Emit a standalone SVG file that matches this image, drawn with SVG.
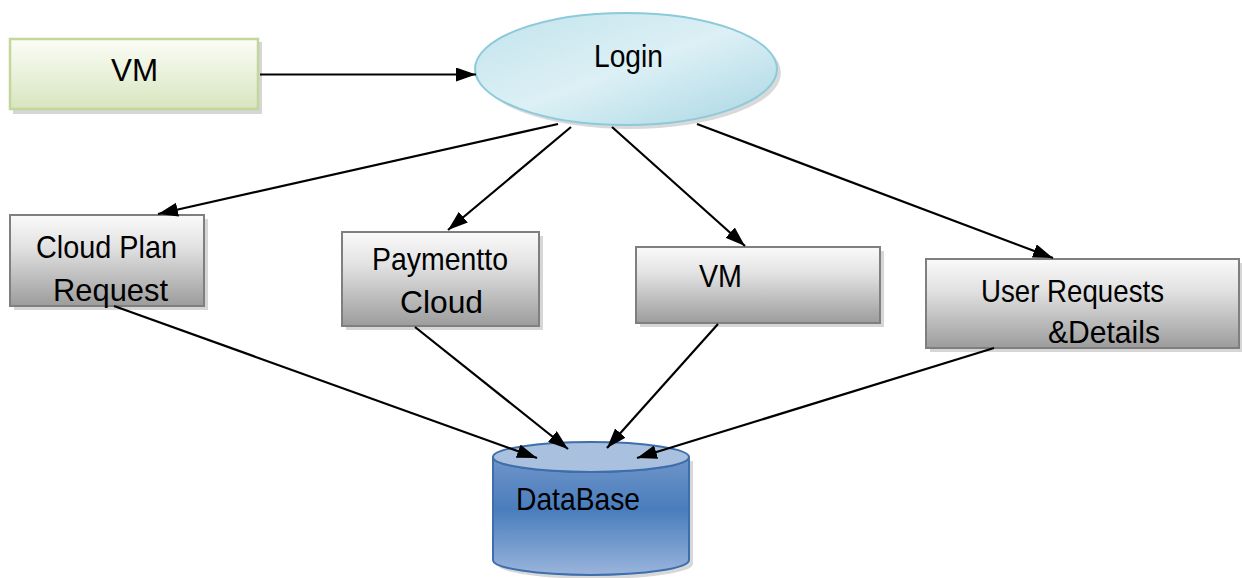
<svg xmlns="http://www.w3.org/2000/svg" width="1242" height="578" viewBox="0 0 1242 578">
  <defs>
    <linearGradient id="gGreen" x1="0" y1="0" x2="0" y2="1">
      <stop offset="0" stop-color="#fbfdf6"/>
      <stop offset="1" stop-color="#d8e5bf"/>
    </linearGradient>
    <linearGradient id="gGray" x1="0" y1="0" x2="0" y2="1">
      <stop offset="0" stop-color="#fafafa"/>
      <stop offset="0.35" stop-color="#e2e2e2"/>
      <stop offset="1" stop-color="#9c9c9c"/>
    </linearGradient>
    <linearGradient id="gLogin" x1="0" y1="0" x2="1" y2="1">
      <stop offset="0" stop-color="#c2e3ec"/>
      <stop offset="0.5" stop-color="#dcf0f5"/>
      <stop offset="1" stop-color="#a9d6e3"/>
    </linearGradient>
    <linearGradient id="gDb" x1="0" y1="0" x2="0" y2="1">
      <stop offset="0" stop-color="#6f95c8"/>
      <stop offset="0.45" stop-color="#4a7dbd"/>
      <stop offset="1" stop-color="#9ab5dc"/>
    </linearGradient>
    <marker id="head" viewBox="0 0 20 14" refX="20" refY="7" markerWidth="20" markerHeight="14" markerUnits="userSpaceOnUse" orient="auto">
      <path d="M0,0 L20,7 L0,14 z" fill="#000"/>
    </marker>
  </defs>
  <style>
    .shadow { fill: #d6d6d6; }
    .box { fill: url(#gGray); stroke: #7f7f7f; stroke-width: 2; }
    .lbl { font-family: "Liberation Sans", Arial, sans-serif; font-size: 32px; fill: #000; }
    .edge { stroke: #000; stroke-width: 2.2; fill: none; marker-end: url(#head); }
  </style>

  <!-- VM (source) -->
  <g id="vm-source">
    <rect class="shadow" x="13" y="42" width="249" height="72"/>
    <rect x="10" y="39" width="248" height="70" fill="url(#gGreen)" stroke="#c3d69b" stroke-width="2.5"/>
    <text class="lbl" x="111" y="81" textLength="47" lengthAdjust="spacingAndGlyphs">VM</text>
  </g>

  <!-- Login -->
  <g id="login">
    <ellipse cx="630" cy="73" rx="151" ry="56" fill="#cfcfcf" opacity="0.8"/>
    <ellipse cx="626" cy="69" rx="151" ry="56" fill="url(#gLogin)" stroke="#8ccadb" stroke-width="2"/>
    <text class="lbl" x="594" y="67" textLength="69" lengthAdjust="spacingAndGlyphs">Login</text>
  </g>

  <!-- Cloud Plan Request -->
  <g id="cloud-plan-request">
    <rect class="shadow" x="14" y="219" width="194" height="91"/>
    <rect class="box" x="10" y="215" width="194" height="91"/>
    <text class="lbl" x="36" y="258" textLength="141" lengthAdjust="spacingAndGlyphs">Cloud Plan</text>
    <text class="lbl" x="53" y="301" textLength="115" lengthAdjust="spacingAndGlyphs">Request</text>
  </g>

  <!-- Paymentto Cloud -->
  <g id="payment-to-cloud">
    <rect class="shadow" x="346" y="236" width="197" height="94"/>
    <rect class="box" x="342" y="232" width="197" height="94"/>
    <text class="lbl" x="372" y="270" textLength="136" lengthAdjust="spacingAndGlyphs">Paymentto</text>
    <text class="lbl" x="400" y="313" textLength="83" lengthAdjust="spacingAndGlyphs">Cloud</text>
  </g>

  <!-- VM -->
  <g id="vm">
    <rect class="shadow" x="640" y="251" width="244" height="76"/>
    <rect class="box" x="636" y="247" width="244" height="76"/>
    <text class="lbl" x="699" y="287" textLength="43" lengthAdjust="spacingAndGlyphs">VM</text>
  </g>

  <!-- User Requests & Details -->
  <g id="user-requests">
    <rect class="shadow" x="930" y="263" width="312" height="89"/>
    <rect class="box" x="926" y="259" width="313" height="89"/>
    <text class="lbl" x="981" y="302" textLength="183" lengthAdjust="spacingAndGlyphs">User Requests</text>
    <text class="lbl" x="1048" y="343" textLength="112" lengthAdjust="spacingAndGlyphs">&amp;Details</text>
  </g>

  <!-- DataBase -->
  <g id="database">
    <path d="M497,461 L497,564 A98,15 0 0 0 693,564 L693,461 z" fill="#c8c8c8" opacity="0.7"/>
    <path d="M493,457 L493,560 A98,15 0 0 0 689,560 L689,457 A98,15 0 0 1 493,457 z" fill="url(#gDb)" stroke="#3e6eab" stroke-width="2"/>
    <ellipse cx="591" cy="457" rx="98" ry="15" fill="#a9c0df" stroke="#3e6eab" stroke-width="2"/>
    <text class="lbl" x="516" y="510" textLength="124" lengthAdjust="spacingAndGlyphs">DataBase</text>
  </g>

  <!-- connectors -->
  <g id="connectors">
    <line class="edge" x1="260" y1="74.5" x2="476" y2="74.5"/>
    <line class="edge" x1="558" y1="124" x2="158" y2="214"/>
    <line class="edge" x1="571" y1="127" x2="448" y2="230"/>
    <line class="edge" x1="612" y1="127" x2="745" y2="246"/>
    <line class="edge" x1="697" y1="124" x2="1053" y2="258"/>
    <line class="edge" x1="114" y1="306" x2="537" y2="458"/>
    <line class="edge" x1="415" y1="327" x2="568" y2="449"/>
    <line class="edge" x1="718" y1="324" x2="607" y2="448"/>
    <line class="edge" x1="994" y1="348" x2="637" y2="458"/>
  </g>
</svg>
